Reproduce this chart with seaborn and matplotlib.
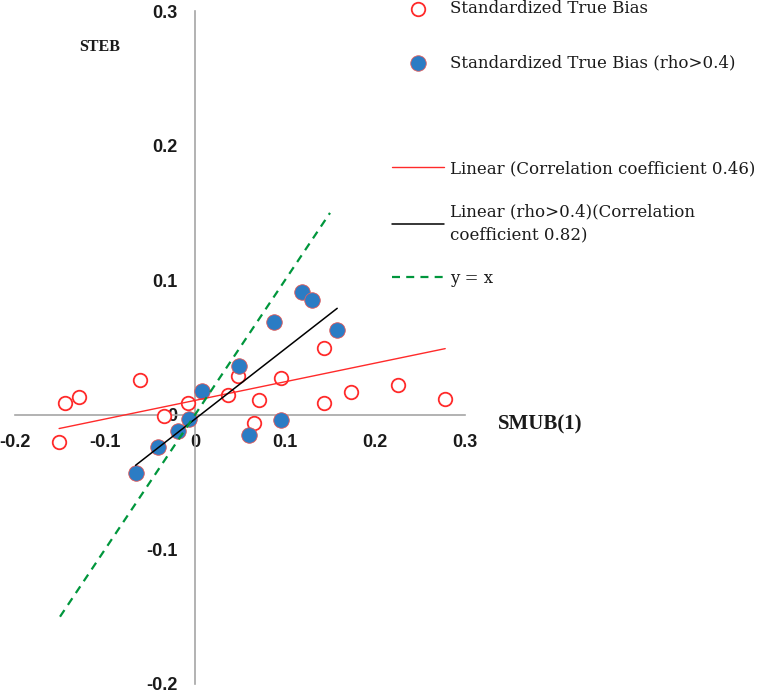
import matplotlib
matplotlib.use("Agg")
import matplotlib.pyplot as plt
import seaborn as sns
import numpy as np
from matplotlib.ticker import FuncFormatter

# points that only belong to the full series
x_open = [-0.151, -0.144, -0.129, -0.061, -0.034, -0.008, 0.037, 0.048,
          0.065, 0.071, 0.096, 0.143, 0.143, 0.173, 0.226, 0.278]
y_open = [-0.020, 0.009, 0.013, 0.026, -0.001, 0.009, 0.015, 0.029,
          -0.006, 0.011, 0.027, 0.050, 0.009, 0.017, 0.022, 0.012]

# points with rho > 0.4
x_rho = [-0.066, -0.041, -0.019, -0.007, 0.008, 0.049, 0.060, 0.095,
         0.088, 0.119, 0.130, 0.158]
y_rho = [-0.043, -0.024, -0.012, -0.003, 0.018, 0.036, -0.015, -0.004,
         0.069, 0.091, 0.085, 0.063]

x_ident = [-0.15, 0.15]
ticks = [-0.2, -0.1, 0, 0.1, 0.2, 0.3]

x_all = np.array(x_open + x_rho)
y_all = np.array(y_open + y_rho)

RED = "#ff2a2a"
BLUE = "#2b7cc4"
GREEN = "#00963c"
GREY = "#a6a6a6"

sns.set_style("white")
plt.rcParams["axes.unicode_minus"] = False

fig = plt.figure(figsize=(7.62, 6.91), dpi=100)
ax = fig.add_axes([15 / 762, 7 / 691, 450 / 762, 673 / 691])

sns.scatterplot(x=x_all, y=y_all, ax=ax, s=95, color="white", edgecolor=RED,
                linewidth=1.3, zorder=3, label="Standardized True Bias")
sns.scatterplot(x=x_rho, y=y_rho, ax=ax, s=125, color=BLUE, edgecolor="#e06060",
                linewidth=0.6, zorder=4, label="Standardized True Bias (rho>0.4)")

sns.regplot(x=x_all, y=y_all, ax=ax, scatter=False, ci=None, truncate=True,
            line_kws=dict(color=RED, lw=1.0, zorder=5),
            label="Linear (Correlation coefficient 0.46)")
sns.regplot(x=np.array(x_rho), y=np.array(y_rho), ax=ax, scatter=False, ci=None,
            truncate=True, line_kws=dict(color="black", lw=1.1, zorder=5),
            label="Linear (rho>0.4)(Correlation\ncoefficient 0.82)")
sns.lineplot(x=x_ident, y=x_ident, ax=ax, color=GREEN, lw=1.6,
             dashes=False, zorder=5, label="y = x")
ax.get_lines()[-1].set_linestyle((0, (3.6, 2.8)))

ax.set_xlim(-0.2, 0.3)
ax.set_ylim(-0.2, 0.3)
ax.set_xticks(ticks)
ax.set_yticks(ticks)
fmt = FuncFormatter(lambda v, p: "0" if abs(v) < 1e-9 else f"{v:g}")
ax.xaxis.set_major_formatter(fmt)
ax.yaxis.set_major_formatter(fmt)

for side in ["top", "right"]:
    ax.spines[side].set_visible(False)
ax.spines["left"].set_position(("data", 0))
ax.spines["bottom"].set_position(("data", 0))
for side in ["left", "bottom"]:
    ax.spines[side].set_color(GREY)
    ax.spines[side].set_linewidth(1.2)

ax.tick_params(axis="both", direction="out", length=4.5, width=1.1, color=GREY,
               labelsize=13, labelcolor="#1a1a1a")
ax.tick_params(axis="x", pad=9)
ax.tick_params(axis="y", pad=8)
for lab in ax.get_xticklabels() + ax.get_yticklabels():
    lab.set_fontweight("bold")
    lab.set_family("Liberation Sans")

ax.set_xlabel("")
ax.set_ylabel("")
ax.text(1.167, 0.385, "SMUB(1)", transform=ax.transAxes, ha="center", va="center",
        fontsize=15, fontweight="bold", family="Liberation Serif", color="#1a1a1a")
ax.text(0.189, 0.946, "STEB", transform=ax.transAxes, ha="center", va="center",
        fontsize=11.5, fontweight="bold", family="Liberation Serif", color="#1a1a1a")

if ax.get_legend() is not None:
    ax.get_legend().remove()
handles, labels = ax.get_legend_handles_labels()
lookup = dict(zip(labels, handles))

fsize = 12.0
fpx = fsize * 100 / 72
leg_kw = dict(frameon=False, loc="upper left", borderpad=0, borderaxespad=0,
              handlelength=52 / fpx, handletextpad=6 / fpx,
              prop=dict(family="DejaVu Serif", size=fsize))
names1 = ["Standardized True Bias", "Standardized True Bias (rho>0.4)"]
names2 = ["Linear (Correlation coefficient 0.46)",
          "Linear (rho>0.4)(Correlation\ncoefficient 0.82)", "y = x"]
leg1 = fig.legend([lookup[n] for n in names1], names1, bbox_to_anchor=(392 / 762, 1.0),
                  labelspacing=2.23, **leg_kw)
leg2 = fig.legend([lookup[n] for n in names2], names2, bbox_to_anchor=(392 / 762, 1 - 160 / 691),
                  labelspacing=1.57, **leg_kw)
for t in leg2.get_texts():
    t.set_linespacing(1.5)
for leg in (leg1, leg2):
    for t in leg.get_texts():
        t.set_color("#1a1a1a")

fig.savefig("out.png", dpi=100)
